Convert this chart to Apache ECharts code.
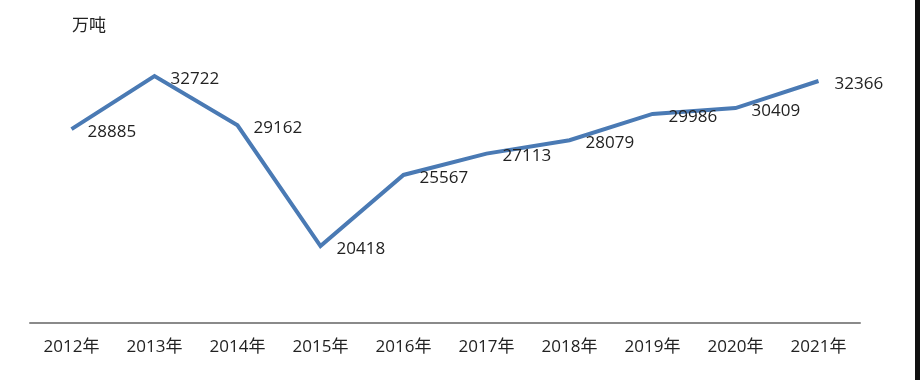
<!DOCTYPE html>
<html>
<head>
<meta charset="utf-8">
<script src="https://cdn.jsdelivr.net/npm/echarts@6/dist/echarts.min.js"></script>
<style>
  html, body { margin: 0; padding: 0; background: #fff; }
  #chart { width: 920px; height: 380px; }
</style>
</head>
<body>
<div id="chart"></div>
<script>
// Annual output, unit: 万吨
const years = ['2012年', '2013年', '2014年', '2015年', '2016年', '2017年', '2018年', '2019年', '2020年', '2021年'];
const output = [28885, 32722, 29162, 20418, 25567, 27113, 28079, 29986, 30409, 32366];
const unitLabel = '万吨';

const textFont = '"Open Sans", "Noto Sans CJK SC", sans-serif';

const chart = echarts.init(document.getElementById('chart'), null, { renderer: 'canvas' });
chart.setOption({
  backgroundColor: '#ffffff',
  animation: false,
  grid: { left: 30, right: 60, top: 46.7, bottom: 57, containLabel: false },
  graphic: [
    {
      type: 'text',
      left: 72,
      top: 18,
      style: { text: unitLabel, font: '17px ' + textFont, fill: '#222' }
    },
    {
      type: 'rect',
      right: 0,
      top: 0,
      shape: { width: 5, height: 380 },
      style: { fill: '#111' }
    }
  ],
  xAxis: {
    type: 'category',
    data: years,
    boundaryGap: true,
    axisLine: { show: true, lineStyle: { color: '#8a8a8a', width: 2 } },
    axisTick: { show: false },
    axisLabel: {
      color: '#222',
      fontSize: 17,
      fontFamily: textFont,
      margin: 16
    },
    splitLine: { show: false }
  },
  yAxis: {
    type: 'value',
    min: 14850,
    max: 34850,
    show: false,
    splitLine: { show: false }
  },
  series: [
    {
      type: 'line',
      data: output,
      symbol: 'circle',
      symbolSize: 2,
      showSymbol: true,
      itemStyle: { color: 'rgba(74,122,180,0)', borderWidth: 0 },
      lineStyle: { color: '#4a7ab4', width: 4, join: 'miter' },
      label: {
        show: true,
        position: 'right',
        distance: 15,
        offset: [0, 3],
        color: '#222',
        fontSize: 17,
        fontFamily: textFont
      }
    }
  ]
});
</script>
</body>
</html>
